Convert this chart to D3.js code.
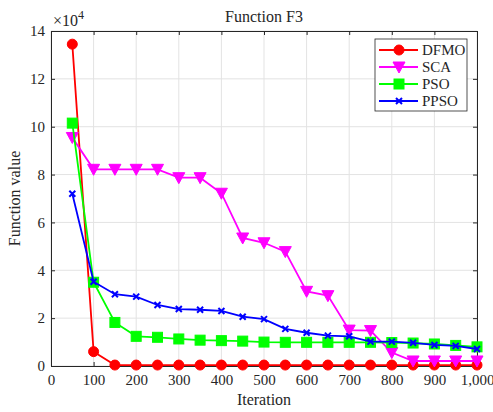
<!DOCTYPE html>
<html>
<head>
<meta charset="utf-8">
<script src="https://cdn.jsdelivr.net/npm/d3@7"></script>
<style>
  body { margin: 0; background: #fff; }
  text { font-family: "Liberation Serif", "DejaVu Serif", serif; fill: #262626; }
</style>
</head>
<body>
<div id="chart"></div>
<script>
const iterations = [50, 100, 150, 200, 250, 300, 350, 400, 450, 500, 550, 600, 650, 700, 750, 800, 850, 900, 950, 1000];

// values in units of 1e4
const dfmo = [13.45, 0.6, 0.04, 0.04, 0.04, 0.04, 0.04, 0.04, 0.04, 0.04, 0.04, 0.04, 0.04, 0.04, 0.04, 0.04, 0.04, 0.04, 0.04, 0.04];
const sca = [9.55, 8.22, 8.22, 8.22, 8.22, 7.87, 7.87, 7.22, 5.35, 5.15, 4.78, 3.12, 2.94, 1.5, 1.48, 0.56, 0.21, 0.21, 0.21, 0.21];
const pso = [10.15, 3.5, 1.82, 1.24, 1.2, 1.13, 1.08, 1.06, 1.04, 1.0, 0.99, 0.99, 0.99, 0.99, 0.99, 0.98, 0.96, 0.92, 0.86, 0.8];
const ppso = [7.2, 3.52, 3.0, 2.9, 2.55, 2.38, 2.35, 2.3, 2.06, 1.96, 1.55, 1.39, 1.27, 1.24, 1.02, 1.02, 0.97, 0.88, 0.84, 0.71];

const seriesNames = ['DFMO', 'SCA', 'PSO', 'PPSO'];
const seriesColors = ['#ff0000', '#ff00ff', '#00ff00', '#0000ff'];
const seriesMarkers = ['circle', 'triangle', 'square', 'cross'];
const seriesValues = [dfmo, sca, pso, ppso];

const xTicks = d3.range(0, 1001, 100);
const yTicks = d3.range(0, 15, 2);

const width = 493;
const height = 412;
const margin = { top: 31, right: 16, bottom: 46, left: 51 };

const svg = d3.select('#chart').append('svg')
  .attr('width', width)
  .attr('height', height);

const x = d3.scaleLinear().domain([0, 1000]).range([margin.left, width - margin.right]);
const y = d3.scaleLinear().domain([0, 14]).range([height - margin.bottom, margin.top]);

// grid
svg.append('g')
  .selectAll('line.vgrid')
  .data(xTicks)
  .enter().append('line')
    .attr('x1', d => x(d)).attr('x2', d => x(d))
    .attr('y1', y(0)).attr('y2', y(14))
    .style('stroke', '#e3e3e3').style('stroke-width', 1);

svg.append('g')
  .selectAll('line.hgrid')
  .data(yTicks)
  .enter().append('line')
    .attr('x1', x(0)).attr('x2', x(1000))
    .attr('y1', d => y(d)).attr('y2', d => y(d))
    .style('stroke', '#e3e3e3').style('stroke-width', 1);

// axes
const xAxis = svg.append('g')
  .attr('transform', `translate(0,${y(0)})`)
  .call(d3.axisBottom(x).tickValues(xTicks).tickSizeInner(-4).tickSizeOuter(0).tickPadding(8));
const yAxis = svg.append('g')
  .attr('transform', `translate(${x(0)},0)`)
  .call(d3.axisLeft(y).tickValues(yTicks).tickSizeInner(-4).tickSizeOuter(0).tickPadding(6));
const xTop = svg.append('g')
  .attr('transform', `translate(0,${y(14)})`)
  .call(d3.axisTop(x).tickValues(xTicks).tickSizeInner(-4).tickSizeOuter(0).tickFormat(''));
const yRight = svg.append('g')
  .attr('transform', `translate(${x(1000)},0)`)
  .call(d3.axisRight(y).tickValues(yTicks).tickSizeInner(-4).tickSizeOuter(0).tickFormat(''));

[xAxis, yAxis, xTop, yRight].forEach(a => {
  a.select('.domain').style('stroke', '#262626').style('stroke-width', 1);
  a.selectAll('.tick line').style('stroke', '#262626');
  a.selectAll('.tick text')
    .style('font-family', '"Liberation Serif", serif')
    .style('font-size', '15px')
    .style('fill', '#262626');
});

// exponent label
const expLabel = svg.append('text')
  .attr('x', x(0) + 2)
  .attr('y', y(14) - 5)
  .style('font-size', '16px');
expLabel.append('tspan').text('\u00d710');
expLabel.append('tspan').attr('dy', -7).style('font-size', '12px').text('4');

// title
svg.append('text')
  .attr('x', (x(0) + x(1000)) / 2)
  .attr('y', 22)
  .attr('text-anchor', 'middle')
  .style('font-size', '16px')
  .text('Function F3');

// axis labels
svg.append('text')
  .attr('x', (x(0) + x(1000)) / 2)
  .attr('y', 405)
  .attr('text-anchor', 'middle')
  .style('font-size', '16px')
  .text('Iteration');

svg.append('text')
  .attr('transform', `translate(20,${(y(0) + y(14)) / 2}) rotate(-90)`)
  .attr('text-anchor', 'middle')
  .style('font-size', '16px')
  .text('Function value');

// marker drawing
function drawMarker(g, type, color) {
  if (type === 'circle') {
    g.append('circle').attr('r', 5).style('fill', color).style('stroke', color);
  } else if (type === 'triangle') {
    g.append('path').attr('d', 'M-6,-5L6,-5L0,6Z').style('fill', color).style('stroke', color);
  } else if (type === 'square') {
    g.append('rect').attr('x', -5).attr('y', -5).attr('width', 10).attr('height', 10)
      .style('fill', color).style('stroke', color);
  } else {
    g.append('path').attr('d', 'M-3,-3L3,3M-3,3L3,-3').style('stroke', color).style('stroke-width', 2).style('fill', 'none');
  }
}

const line = d3.line()
  .x((d, i) => x(iterations[i]))
  .y(d => y(d));

const plot = svg.append('g');

seriesValues.forEach((vals, s) => {
  const g = plot.append('g');
  g.append('path')
    .datum(vals)
    .attr('d', line)
    .style('fill', 'none')
    .style('stroke', seriesColors[s])
    .style('stroke-width', 1.8);

  g.selectAll('g.marker')
    .data(vals)
    .enter().append('g')
      .attr('transform', (d, i) => `translate(${x(iterations[i])},${y(d)})`)
      .each(function () { drawMarker(d3.select(this), seriesMarkers[s], seriesColors[s]); });
});

// legend
const legend = svg.append('g').attr('transform', 'translate(375,39)');
legend.append('rect')
  .attr('width', 92).attr('height', 72)
  .style('fill', '#fff').style('stroke', '#262626').style('stroke-width', 0.8);

seriesNames.forEach((name, i) => {
  const row = legend.append('g').attr('transform', `translate(0,${11 + i * 17})`);
  row.append('line')
    .attr('x1', 4).attr('x2', 43)
    .style('stroke', seriesColors[i]).style('stroke-width', 1.8);
  const m = row.append('g').attr('transform', 'translate(24,0)');
  drawMarker(m, seriesMarkers[i], seriesColors[i]);
  row.append('text')
    .attr('x', 47).attr('y', 5)
    .style('font-size', '15px')
    .text(name);
});
</script>
</body>
</html>
